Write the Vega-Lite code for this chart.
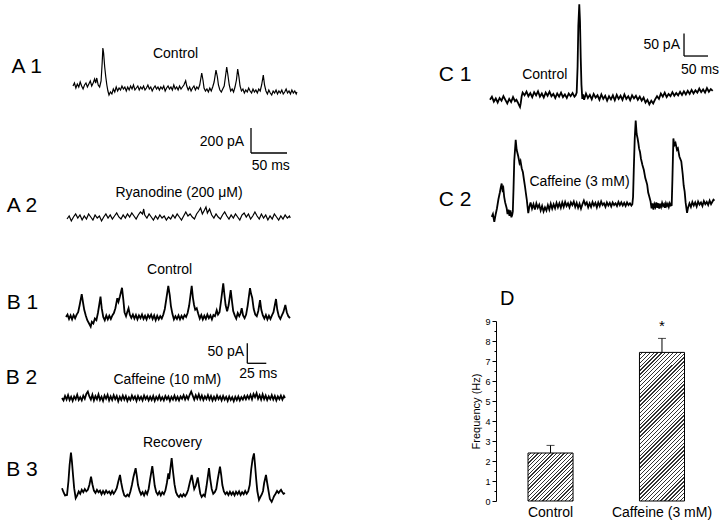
{
"$schema":"https://vega.github.io/schema/vega-lite/v6.json",
"padding":0,
"background":"white",
"config":{"view":{"stroke":null},"font":"Liberation Sans","concat":{"spacing":0},"text":{"font":"Liberation Sans","color":"black"},"axis":{"labelFont":"Liberation Sans","titleFont":"Liberation Sans","domainColor":"black","tickColor":"black","labelColor":"black","titleColor":"black","grid":false,"labelOverlap":false,"labelSeparation":0}},
"datasets":{
"A1":[{"t":0,"v":16},{"t":2,"v":40},{"t":4,"v":0},{"t":6,"v":32},{"t":8,"v":8},{"t":10,"v":48},{"t":12,"v":16},{"t":14,"v":-8},{"t":16,"v":24},{"t":18,"v":40},{"t":20,"v":8},{"t":22,"v":32},{"t":24,"v":56},{"t":26,"v":16},{"t":28,"v":40},{"t":30,"v":72},{"t":31.5,"v":40},{"t":33,"v":80},{"t":35,"v":24},{"t":37,"v":8},{"t":39,"v":56},{"t":40.5,"v":200},{"t":41.5,"v":320},{"t":42.5,"v":280},{"t":44,"v":170},{"t":45.5,"v":90},{"t":47,"v":24},{"t":48.5,"v":-24},{"t":50,"v":-56},{"t":52,"v":-32},{"t":54,"v":-48},{"t":56,"v":-8},{"t":58,"v":-32},{"t":60,"v":8},{"t":62,"v":-24},{"t":64,"v":0},{"t":66,"v":-16},{"t":68,"v":16},{"t":70,"v":-8},{"t":72,"v":8},{"t":74,"v":-24},{"t":76,"v":8},{"t":78,"v":-16},{"t":80,"v":16},{"t":82,"v":-8},{"t":84,"v":24},{"t":86,"v":-16},{"t":88,"v":0},{"t":90,"v":16},{"t":92,"v":-16},{"t":94,"v":8},{"t":96,"v":-8},{"t":98,"v":16},{"t":100,"v":-16},{"t":102,"v":0},{"t":104,"v":24},{"t":106,"v":-8},{"t":108,"v":8},{"t":110,"v":-24},{"t":112,"v":0},{"t":114,"v":16},{"t":116,"v":-8},{"t":118,"v":8},{"t":120,"v":-16},{"t":122,"v":8},{"t":124,"v":-8},{"t":126,"v":16},{"t":128,"v":-24},{"t":130,"v":0},{"t":132,"v":16},{"t":134,"v":-8},{"t":136,"v":8},{"t":138,"v":-16},{"t":140,"v":24},{"t":142,"v":-8},{"t":144,"v":8},{"t":146,"v":-16},{"t":148,"v":16},{"t":150,"v":-8},{"t":152,"v":8},{"t":154,"v":24},{"t":156.5,"v":58},{"t":158,"v":16},{"t":160,"v":-16},{"t":162,"v":8},{"t":164,"v":-24},{"t":166,"v":0},{"t":168,"v":16},{"t":170,"v":-16},{"t":172,"v":8},{"t":174,"v":-8},{"t":176,"v":24},{"t":178.8,"v":120},{"t":180.5,"v":64},{"t":182,"v":0},{"t":184,"v":-24},{"t":186,"v":-8},{"t":188,"v":-32},{"t":190,"v":0},{"t":192,"v":-24},{"t":194,"v":8},{"t":196,"v":48},{"t":198.6,"v":144},{"t":200.5,"v":90},{"t":202,"v":24},{"t":204,"v":-16},{"t":206,"v":-32},{"t":208,"v":-8},{"t":210,"v":16},{"t":211.5,"v":80},{"t":213.5,"v":168},{"t":215,"v":110},{"t":217,"v":24},{"t":219,"v":-24},{"t":221,"v":-8},{"t":223,"v":-32},{"t":225,"v":8},{"t":227,"v":64},{"t":228.75,"v":152},{"t":230.5,"v":88},{"t":232,"v":16},{"t":234,"v":-24},{"t":236,"v":-8},{"t":238,"v":-40},{"t":240,"v":-16},{"t":242,"v":-32},{"t":244,"v":0},{"t":246,"v":-24},{"t":248,"v":-40},{"t":250,"v":-8},{"t":252,"v":-32},{"t":254,"v":-16},{"t":256,"v":-40},{"t":258,"v":-8},{"t":260,"v":-24},{"t":262,"v":24},{"t":264.3,"v":104},{"t":266,"v":24},{"t":268,"v":-24},{"t":270,"v":-48},{"t":272,"v":-16},{"t":274,"v":-40},{"t":276,"v":-56},{"t":278,"v":-24},{"t":280,"v":-40},{"t":282,"v":-16},{"t":284,"v":-48},{"t":286,"v":-24},{"t":288,"v":-40},{"t":290,"v":-16},{"t":292,"v":-48},{"t":294,"v":-32},{"t":296,"v":-8},{"t":298,"v":-40},{"t":300,"v":-24},{"t":302,"v":-48},{"t":304,"v":-16},{"t":306,"v":-40},{"t":308,"v":-24},{"t":310,"v":-48},{"t":311,"v":-32}],
"A2":[{"t":0,"v":-16},{"t":3,"v":8},{"t":6,"v":-32},{"t":9,"v":0},{"t":12,"v":24},{"t":15,"v":-8},{"t":18,"v":16},{"t":21,"v":-24},{"t":24,"v":8},{"t":27,"v":-16},{"t":30,"v":24},{"t":33,"v":0},{"t":36,"v":-24},{"t":39,"v":16},{"t":42,"v":-8},{"t":45,"v":8},{"t":48,"v":-32},{"t":51,"v":0},{"t":54,"v":24},{"t":57,"v":-8},{"t":60,"v":16},{"t":63,"v":-16},{"t":66,"v":8},{"t":69,"v":32},{"t":72,"v":0},{"t":75,"v":-16},{"t":78,"v":16},{"t":81,"v":-8},{"t":84,"v":24},{"t":87,"v":0},{"t":90,"v":32},{"t":93,"v":8},{"t":96,"v":-16},{"t":99,"v":16},{"t":102,"v":40},{"t":105,"v":24},{"t":106.5,"v":64},{"t":108,"v":16},{"t":111,"v":-8},{"t":114,"v":24},{"t":117,"v":0},{"t":120,"v":-24},{"t":123,"v":8},{"t":126,"v":-16},{"t":129,"v":16},{"t":132,"v":-8},{"t":135,"v":8},{"t":138,"v":-24},{"t":141,"v":0},{"t":144,"v":-16},{"t":147,"v":16},{"t":150,"v":-8},{"t":153,"v":24},{"t":156,"v":0},{"t":159,"v":-24},{"t":162,"v":8},{"t":165,"v":40},{"t":168,"v":8},{"t":171,"v":24},{"t":174,"v":0},{"t":177,"v":-16},{"t":180,"v":24},{"t":183,"v":48},{"t":185.5,"v":72},{"t":188,"v":24},{"t":191,"v":56},{"t":193,"v":80},{"t":195,"v":32},{"t":198,"v":64},{"t":201,"v":16},{"t":204,"v":-8},{"t":207,"v":24},{"t":210,"v":0},{"t":213,"v":-16},{"t":216,"v":16},{"t":219,"v":40},{"t":222,"v":8},{"t":225,"v":-16},{"t":228,"v":16},{"t":231,"v":-8},{"t":234,"v":24},{"t":237,"v":0},{"t":240,"v":-24},{"t":243,"v":16},{"t":246,"v":32},{"t":249,"v":0},{"t":252,"v":24},{"t":255,"v":-16},{"t":258,"v":8},{"t":261,"v":40},{"t":264,"v":8},{"t":267,"v":-16},{"t":270,"v":24},{"t":273,"v":-8},{"t":276,"v":16},{"t":279,"v":-24},{"t":282,"v":8},{"t":285,"v":-16},{"t":288,"v":24},{"t":291,"v":0},{"t":294,"v":-24},{"t":297,"v":8},{"t":300,"v":-16},{"t":303,"v":16},{"t":306,"v":-8},{"t":309,"v":8},{"t":310,"v":-8}],
"B1":[{"t":0,"v":0},{"t":2,"v":6},{"t":4,"v":-5},{"t":6,"v":4},{"t":8,"v":-6},{"t":10,"v":5},{"t":12,"v":-3},{"t":14,"v":6},{"t":16,"v":12},{"t":18,"v":30},{"t":20.7,"v":57},{"t":22.5,"v":35},{"t":24,"v":18},{"t":26,"v":4},{"t":28,"v":-8},{"t":30,"v":-15},{"t":32.5,"v":-24},{"t":34,"v":-12},{"t":36,"v":-16},{"t":38,"v":-4},{"t":40,"v":-8},{"t":42,"v":10},{"t":43.7,"v":30},{"t":45.4,"v":51},{"t":47,"v":22},{"t":49,"v":0},{"t":51,"v":-8},{"t":53,"v":4},{"t":55,"v":-6},{"t":57,"v":3},{"t":59,"v":-5},{"t":61,"v":4},{"t":63,"v":10},{"t":65,"v":22},{"t":67.5,"v":47},{"t":69,"v":38},{"t":71,"v":52},{"t":73.7,"v":73},{"t":75.5,"v":42},{"t":77,"v":12},{"t":79,"v":2},{"t":80.5,"v":12},{"t":82.3,"v":22},{"t":84,"v":6},{"t":86,"v":-2},{"t":88,"v":6},{"t":90,"v":-4},{"t":92,"v":5},{"t":94,"v":-6},{"t":96,"v":4},{"t":98,"v":-3},{"t":100,"v":6},{"t":102,"v":-5},{"t":104,"v":3},{"t":106,"v":-6},{"t":108,"v":5},{"t":110,"v":-2},{"t":112,"v":6},{"t":114,"v":-5},{"t":116,"v":4},{"t":118,"v":-8},{"t":120,"v":3},{"t":122,"v":-6},{"t":124,"v":2},{"t":126,"v":-4},{"t":128,"v":6},{"t":130,"v":20},{"t":132,"v":45},{"t":134.6,"v":78},{"t":136.5,"v":55},{"t":138,"v":28},{"t":140,"v":8},{"t":142,"v":-6},{"t":144,"v":2},{"t":146,"v":-5},{"t":148,"v":4},{"t":150,"v":-6},{"t":152,"v":3},{"t":154,"v":-4},{"t":156,"v":5},{"t":158,"v":0},{"t":160,"v":10},{"t":162,"v":28},{"t":163.5,"v":50},{"t":165.4,"v":78},{"t":167,"v":48},{"t":168.5,"v":30},{"t":170,"v":18},{"t":172,"v":22},{"t":174,"v":8},{"t":176,"v":-4},{"t":178,"v":5},{"t":180,"v":-6},{"t":182,"v":3},{"t":184,"v":-5},{"t":186,"v":6},{"t":188,"v":-3},{"t":190,"v":4},{"t":192,"v":-6},{"t":194,"v":5},{"t":196,"v":2},{"t":198.3,"v":17},{"t":200,"v":6},{"t":202,"v":12},{"t":204,"v":40},{"t":206.9,"v":84},{"t":208.5,"v":55},{"t":210,"v":30},{"t":212,"v":14},{"t":214,"v":30},{"t":216.7,"v":67},{"t":218.5,"v":38},{"t":220,"v":15},{"t":222,"v":4},{"t":224,"v":-4},{"t":226,"v":10},{"t":228,"v":2},{"t":229.5,"v":8},{"t":231.2,"v":22},{"t":233,"v":4},{"t":235,"v":-3},{"t":237,"v":6},{"t":239,"v":28},{"t":242.1,"v":72},{"t":243.5,"v":58},{"t":245,"v":48},{"t":247,"v":20},{"t":249,"v":6},{"t":251,"v":2},{"t":253,"v":15},{"t":255.3,"v":42},{"t":257,"v":18},{"t":259,"v":4},{"t":261,"v":-4},{"t":263,"v":5},{"t":265,"v":-6},{"t":267,"v":3},{"t":269,"v":-5},{"t":271,"v":4},{"t":273,"v":12},{"t":276.3,"v":45},{"t":278,"v":18},{"t":280,"v":2},{"t":282,"v":-5},{"t":284,"v":4},{"t":286,"v":12},{"t":288.6,"v":30},{"t":290.5,"v":12},{"t":292.5,"v":2},{"t":294.7,"v":-3}],
"B2":[{"t":0,"v":0},{"t":2,"v":-6},{"t":4,"v":5},{"t":6,"v":-4},{"t":8,"v":7},{"t":10,"v":-5},{"t":12,"v":3},{"t":14,"v":-7},{"t":16,"v":4},{"t":18,"v":-3},{"t":20,"v":8},{"t":22,"v":-5},{"t":24,"v":2},{"t":26,"v":-6},{"t":28,"v":6},{"t":30,"v":-2},{"t":32,"v":10},{"t":34,"v":16},{"t":36,"v":4},{"t":38,"v":-4},{"t":40,"v":8},{"t":42,"v":-6},{"t":44,"v":5},{"t":46,"v":-3},{"t":48,"v":9},{"t":50,"v":-5},{"t":52,"v":3},{"t":54,"v":-7},{"t":56,"v":6},{"t":58,"v":-2},{"t":60,"v":8},{"t":62,"v":-6},{"t":64,"v":4},{"t":66,"v":-5},{"t":68,"v":7},{"t":70,"v":-3},{"t":72,"v":5},{"t":74,"v":-8},{"t":76,"v":3},{"t":78,"v":-5},{"t":80,"v":6},{"t":82,"v":-4},{"t":84,"v":5},{"t":86,"v":-7},{"t":88,"v":2},{"t":90,"v":-5},{"t":92,"v":6},{"t":94,"v":-3},{"t":96,"v":4},{"t":98,"v":-7},{"t":100,"v":5},{"t":102,"v":-4},{"t":104,"v":3},{"t":106,"v":-6},{"t":108,"v":6},{"t":110,"v":-3},{"t":112,"v":4},{"t":114,"v":-6},{"t":116,"v":3},{"t":118,"v":-5},{"t":120,"v":5},{"t":122,"v":-7},{"t":124,"v":3},{"t":126,"v":-4},{"t":128,"v":6},{"t":130,"v":-5},{"t":132,"v":2},{"t":134,"v":-6},{"t":136,"v":5},{"t":138,"v":-3},{"t":140,"v":4},{"t":142,"v":-7},{"t":144,"v":3},{"t":146,"v":-4},{"t":148,"v":6},{"t":150,"v":-5},{"t":152,"v":3},{"t":154,"v":-6},{"t":156,"v":4},{"t":158,"v":-2},{"t":160,"v":7},{"t":162,"v":-4},{"t":164,"v":5},{"t":166,"v":-3},{"t":168,"v":8},{"t":170,"v":16},{"t":172,"v":6},{"t":174,"v":-4},{"t":176,"v":7},{"t":178,"v":-2},{"t":180,"v":9},{"t":182,"v":-3},{"t":184,"v":6},{"t":186,"v":-5},{"t":188,"v":4},{"t":190,"v":-3},{"t":192,"v":7},{"t":194,"v":-4},{"t":196,"v":5},{"t":198,"v":-6},{"t":200,"v":3},{"t":202,"v":-5},{"t":204,"v":6},{"t":206,"v":-3},{"t":208,"v":4},{"t":210,"v":-6},{"t":212,"v":5},{"t":214,"v":-4},{"t":216,"v":3},{"t":218,"v":-7},{"t":220,"v":4},{"t":222,"v":-5},{"t":224,"v":2},{"t":226,"v":-8},{"t":228,"v":3},{"t":230,"v":-5},{"t":232,"v":4},{"t":234,"v":-6},{"t":236,"v":2},{"t":238,"v":-4},{"t":240,"v":5},{"t":242,"v":-3},{"t":244,"v":6},{"t":246,"v":-2},{"t":248,"v":8},{"t":250,"v":-3},{"t":252,"v":10},{"t":254,"v":2},{"t":256,"v":12},{"t":258,"v":-2},{"t":260,"v":7},{"t":262,"v":-4},{"t":264,"v":9},{"t":266,"v":-3},{"t":268,"v":6},{"t":270,"v":-5},{"t":272,"v":4},{"t":274,"v":-3},{"t":276,"v":7},{"t":278,"v":-4},{"t":280,"v":5},{"t":282,"v":-6},{"t":284,"v":4},{"t":286,"v":-3},{"t":288,"v":6},{"t":290,"v":-4},{"t":292,"v":5},{"t":293.4,"v":0}],
"B3":[{"t":0,"v":12},{"t":2,"v":2},{"t":4,"v":-6},{"t":6.6,"v":-5},{"t":8.5,"v":30},{"t":10,"v":70},{"t":11.8,"v":101},{"t":13,"v":80},{"t":14.5,"v":45},{"t":16,"v":12},{"t":18,"v":-13},{"t":20,"v":-6},{"t":22,"v":4},{"t":24,"v":-2},{"t":26,"v":8},{"t":28,"v":2},{"t":30,"v":10},{"t":32,"v":4},{"t":34,"v":8},{"t":36,"v":20},{"t":38.2,"v":41},{"t":40,"v":22},{"t":42,"v":6},{"t":44,"v":0},{"t":46,"v":8},{"t":48,"v":2},{"t":50,"v":6},{"t":52,"v":-3},{"t":54,"v":5},{"t":56,"v":-2},{"t":58,"v":6},{"t":60,"v":0},{"t":62,"v":4},{"t":64,"v":-3},{"t":66,"v":5},{"t":68,"v":-2},{"t":70,"v":4},{"t":72,"v":12},{"t":74,"v":28},{"t":76.3,"v":45},{"t":78,"v":25},{"t":80,"v":6},{"t":82,"v":-6},{"t":84,"v":-9},{"t":86,"v":-4},{"t":88,"v":-8},{"t":90,"v":4},{"t":92,"v":20},{"t":94,"v":40},{"t":96.9,"v":62},{"t":98.5,"v":42},{"t":100,"v":20},{"t":102,"v":6},{"t":104,"v":-4},{"t":106,"v":2},{"t":108,"v":-6},{"t":110,"v":4},{"t":112,"v":-3},{"t":114,"v":10},{"t":116,"v":35},{"t":118.8,"v":67},{"t":120.5,"v":42},{"t":122,"v":18},{"t":124,"v":2},{"t":126,"v":-4},{"t":128,"v":3},{"t":130,"v":-6},{"t":132,"v":2},{"t":134,"v":-3},{"t":136,"v":6},{"t":138,"v":25},{"t":139.9,"v":49},{"t":141,"v":35},{"t":142.5,"v":60},{"t":144.3,"v":87},{"t":146,"v":55},{"t":148,"v":22},{"t":150,"v":2},{"t":152,"v":-6},{"t":154,"v":-10},{"t":156,"v":-4},{"t":158,"v":-9},{"t":160,"v":-3},{"t":162,"v":-8},{"t":164,"v":-2},{"t":166,"v":8},{"t":168,"v":25},{"t":170.7,"v":45},{"t":172.5,"v":25},{"t":174,"v":10},{"t":176,"v":18},{"t":178.6,"v":39},{"t":180.5,"v":15},{"t":182,"v":-2},{"t":183.8,"v":-10},{"t":186,"v":-4},{"t":188,"v":-8},{"t":190,"v":15},{"t":193.4,"v":62},{"t":195,"v":35},{"t":197,"v":10},{"t":199,"v":-2},{"t":201,"v":2},{"t":203,"v":10},{"t":205,"v":35},{"t":207.9,"v":66},{"t":209.5,"v":45},{"t":211,"v":20},{"t":213,"v":4},{"t":215,"v":-3},{"t":217,"v":2},{"t":219,"v":-5},{"t":221,"v":3},{"t":223,"v":-4},{"t":225,"v":2},{"t":227,"v":-6},{"t":229,"v":3},{"t":231,"v":-3},{"t":233,"v":4},{"t":235,"v":-5},{"t":237,"v":2},{"t":239,"v":-3},{"t":241,"v":5},{"t":243,"v":-2},{"t":245,"v":4},{"t":247,"v":20},{"t":249,"v":60},{"t":250.8,"v":85},{"t":252.6,"v":99},{"t":254,"v":70},{"t":255.5,"v":35},{"t":257,"v":5},{"t":259.2,"v":-17},{"t":261,"v":-10},{"t":263,"v":-3},{"t":264.5,"v":5},{"t":266,"v":25},{"t":268.4,"v":45},{"t":270,"v":25},{"t":272,"v":2},{"t":273.5,"v":-15},{"t":275.9,"v":-22},{"t":277.5,"v":-15},{"t":279,"v":-8},{"t":281,"v":-2},{"t":283,"v":5},{"t":285,"v":0},{"t":286.5,"v":4},{"t":288.2,"v":8},{"t":290,"v":2},{"t":291.5,"v":-2},{"t":293.4,"v":0}],
"C1":[{"t":0,"v":-4},{"t":4,"v":3},{"t":8,"v":-8},{"t":12,"v":-1},{"t":16,"v":-10},{"t":20,"v":0},{"t":24,"v":-6},{"t":28,"v":4},{"t":32,"v":-4},{"t":36,"v":-12},{"t":40,"v":-2},{"t":44,"v":-9},{"t":48,"v":2},{"t":52,"v":-7},{"t":55,"v":-4},{"t":58,"v":-10},{"t":60.5,"v":-16},{"t":62.5,"v":-20},{"t":64,"v":-12},{"t":66,"v":4},{"t":68,"v":12},{"t":72,"v":6},{"t":76,"v":14},{"t":80,"v":4},{"t":84,"v":11},{"t":88,"v":2},{"t":92,"v":13},{"t":96,"v":6},{"t":100,"v":15},{"t":104,"v":3},{"t":108,"v":10},{"t":112,"v":1},{"t":116,"v":12},{"t":120,"v":5},{"t":124,"v":14},{"t":128,"v":4},{"t":132,"v":9},{"t":136,"v":0},{"t":140,"v":10},{"t":144,"v":3},{"t":148,"v":12},{"t":152,"v":2},{"t":156,"v":8},{"t":160,"v":0},{"t":164,"v":10},{"t":168,"v":4},{"t":172,"v":11},{"t":176,"v":3},{"t":178.5,"v":6},{"t":180.6,"v":12},{"t":182.5,"v":70},{"t":184,"v":160},{"t":186,"v":208},{"t":187.5,"v":170},{"t":189,"v":90},{"t":190.5,"v":30},{"t":192.3,"v":-2},{"t":194,"v":8},{"t":196,"v":-4},{"t":200,"v":10},{"t":204,"v":0},{"t":208,"v":7},{"t":212,"v":-3},{"t":216,"v":9},{"t":220,"v":1},{"t":224,"v":6},{"t":228,"v":-4},{"t":232,"v":8},{"t":236,"v":-2},{"t":240,"v":5},{"t":244,"v":-6},{"t":248,"v":4},{"t":252,"v":-3},{"t":256,"v":6},{"t":260,"v":-5},{"t":264,"v":7},{"t":268,"v":-2},{"t":272,"v":5},{"t":276,"v":-4},{"t":280,"v":8},{"t":284,"v":-2},{"t":288,"v":4},{"t":292,"v":-5},{"t":296,"v":6},{"t":300,"v":-1},{"t":304,"v":5},{"t":308,"v":-4},{"t":312,"v":3},{"t":316,"v":-6},{"t":320,"v":1},{"t":324,"v":-10},{"t":328,"v":-4},{"t":332,"v":-14},{"t":336,"v":-6},{"t":340,"v":-12},{"t":344,"v":-3},{"t":348,"v":4},{"t":352,"v":-2},{"t":356,"v":10},{"t":360,"v":3},{"t":364,"v":12},{"t":368,"v":2},{"t":372,"v":9},{"t":376,"v":4},{"t":380,"v":13},{"t":384,"v":5},{"t":388,"v":11},{"t":392,"v":6},{"t":396,"v":14},{"t":400,"v":7},{"t":404,"v":15},{"t":408,"v":8},{"t":412,"v":16},{"t":416,"v":9},{"t":420,"v":18},{"t":424,"v":10},{"t":428,"v":17},{"t":432,"v":12},{"t":436,"v":21},{"t":440,"v":13},{"t":444,"v":19},{"t":448,"v":12},{"t":452,"v":22},{"t":456,"v":14},{"t":460,"v":20},{"t":464,"v":16}],
"C2":[{"t":0,"v":-24},{"t":2.5,"v":-18},{"t":5.4,"v":-35},{"t":8,"v":-20},{"t":11,"v":-5},{"t":14,"v":15},{"t":17,"v":30},{"t":19,"v":42},{"t":20.8,"v":50},{"t":22.5,"v":36},{"t":24.2,"v":40},{"t":26,"v":20},{"t":28,"v":8},{"t":31.2,"v":-5},{"t":33,"v":-18},{"t":35,"v":-8},{"t":37,"v":-22},{"t":39,"v":-10},{"t":41,"v":-25},{"t":42.7,"v":-20},{"t":44,"v":-12},{"t":45.5,"v":40},{"t":47,"v":100},{"t":50,"v":147},{"t":52,"v":125},{"t":55.4,"v":110},{"t":58,"v":95},{"t":60,"v":100},{"t":62.5,"v":84},{"t":65,"v":75},{"t":67,"v":60},{"t":69.4,"v":43},{"t":71,"v":30},{"t":73,"v":15},{"t":75,"v":-5},{"t":76.2,"v":-16},{"t":78,"v":-4},{"t":81,"v":8},{"t":84,"v":-6},{"t":87,"v":4},{"t":90,"v":-8},{"t":93,"v":6},{"t":96,"v":-4},{"t":99,"v":3},{"t":102,"v":-10},{"t":105,"v":0},{"t":108,"v":-12},{"t":111,"v":-3},{"t":114,"v":-10},{"t":117,"v":2},{"t":120,"v":-8},{"t":123,"v":5},{"t":126,"v":-6},{"t":129,"v":4},{"t":132,"v":-5},{"t":135,"v":7},{"t":138,"v":-3},{"t":141,"v":6},{"t":144,"v":-4},{"t":147,"v":8},{"t":150,"v":-2},{"t":153,"v":9},{"t":156,"v":0},{"t":159,"v":6},{"t":162,"v":-3},{"t":165,"v":8},{"t":168,"v":2},{"t":171,"v":10},{"t":174,"v":-2},{"t":177,"v":7},{"t":180,"v":-4},{"t":183,"v":5},{"t":186,"v":-6},{"t":189,"v":4},{"t":192,"v":12},{"t":195,"v":3},{"t":198,"v":8},{"t":201,"v":-3},{"t":204,"v":6},{"t":207,"v":-2},{"t":210,"v":9},{"t":213,"v":1},{"t":216,"v":7},{"t":219,"v":-3},{"t":222,"v":8},{"t":225,"v":0},{"t":228,"v":10},{"t":231,"v":2},{"t":234,"v":6},{"t":237,"v":-2},{"t":240,"v":8},{"t":243,"v":1},{"t":246,"v":7},{"t":249,"v":-1},{"t":252,"v":8},{"t":255,"v":2},{"t":258,"v":6},{"t":261,"v":0},{"t":264,"v":9},{"t":267,"v":2},{"t":270,"v":8},{"t":273,"v":1},{"t":276,"v":7},{"t":279,"v":0},{"t":282,"v":8},{"t":285,"v":2},{"t":288,"v":6},{"t":291,"v":1},{"t":293,"v":4},{"t":294.5,"v":20},{"t":296,"v":80},{"t":298,"v":150},{"t":300,"v":190},{"t":302,"v":160},{"t":304,"v":150},{"t":305.5,"v":140},{"t":307,"v":128},{"t":309,"v":120},{"t":311,"v":105},{"t":314,"v":91},{"t":317,"v":80},{"t":320,"v":62},{"t":322,"v":55},{"t":324,"v":47},{"t":326,"v":30},{"t":328,"v":22},{"t":331,"v":10},{"t":333,"v":-5},{"t":335,"v":6},{"t":337,"v":-8},{"t":339,"v":4},{"t":341,"v":-2},{"t":343,"v":8},{"t":345,"v":-4},{"t":347,"v":6},{"t":349,"v":-6},{"t":351,"v":5},{"t":353,"v":-2},{"t":355,"v":7},{"t":357,"v":0},{"t":359,"v":4},{"t":361,"v":-4},{"t":363,"v":6},{"t":365,"v":0},{"t":367,"v":5},{"t":369,"v":-2},{"t":371,"v":6},{"t":373,"v":1},{"t":375,"v":2},{"t":376.5,"v":60},{"t":378.5,"v":150},{"t":380.5,"v":135},{"t":383,"v":140},{"t":386,"v":125},{"t":388,"v":128},{"t":391,"v":110},{"t":395,"v":99},{"t":398,"v":70},{"t":400,"v":45},{"t":402,"v":32},{"t":404,"v":8},{"t":405.6,"v":-5},{"t":407,"v":-15},{"t":409,"v":-4},{"t":412,"v":6},{"t":415,"v":-2},{"t":418,"v":9},{"t":421,"v":1},{"t":424,"v":8},{"t":427,"v":-1},{"t":430,"v":10},{"t":433,"v":3},{"t":436,"v":8},{"t":439,"v":0},{"t":442,"v":11},{"t":445,"v":4},{"t":448,"v":9},{"t":451,"v":2},{"t":454,"v":12},{"t":457,"v":4},{"t":460,"v":10},{"t":462,"v":14},{"t":464.2,"v":12}]
},
"hconcat":[
{"vconcat":[
 {"width":300,"height":115,
  "encoding":{"x":{"field":"t","type":"quantitative","scale":{"domain":[-101.39,315.28],"nice":false,"zero":false},"axis":null},"y":{"field":"v","type":"quantitative","scale":{"domain":[-216,704],"nice":false,"zero":false},"axis":null}},
  "layer":[
   {"data":{"name":"A1"},"mark":{"type":"line","color":"black","strokeWidth":1.2},"encoding":{}},
   {"data":{"values":[{"t":-64.3,"v":168,"s":"A 1"}]},"mark":{"type":"text","fontSize":21,"baseline":"middle"},"encoding":{"text":{"field":"s"}}},
   {"data":{"values":[{"t":142.4,"v":272,"s":"Control"}]},"mark":{"type":"text","fontSize":14,"baseline":"middle"},"encoding":{"text":{"field":"s"}}}
  ]},
 {"width":300,"height":125,
  "encoding":{"x":{"field":"t","type":"quantitative","scale":{"domain":[-93.06,323.61],"nice":false,"zero":false},"axis":null},"y":{"field":"v","type":"quantitative","scale":{"domain":[-184,816],"nice":false,"zero":false},"axis":null}},
  "layer":[
   {"data":{"name":"A2"},"mark":{"type":"line","color":"black","strokeWidth":1.2},"encoding":{}},
   {"data":{"values":[{"t":255.56,"t2":255.56,"v":512,"v2":712},{"t":255.56,"t2":305.56,"v":512,"v2":512}]},"mark":{"type":"rule","color":"black","strokeWidth":1.3},"encoding":{"x2":{"field":"t2"},"y2":{"field":"v2"}}},
   {"data":{"values":[{"t":-62.5,"v":90,"s":"A 2"}]},"mark":{"type":"text","fontSize":21,"baseline":"middle"},"encoding":{"text":{"field":"s"}}},
   {"data":{"values":[{"t":155.6,"v":194,"s":"Ryanodine (200 μM)"},{"t":215.3,"v":600,"s":"200 pA"},{"t":283,"v":408,"s":"50 ms"}]},"mark":{"type":"text","fontSize":14,"baseline":"middle"},"encoding":{"text":{"field":"s"}}}
  ]},
 {"width":300,"height":95,
  "encoding":{"x":{"field":"t","type":"quantitative","scale":{"domain":[-86.84,307.89],"nice":false,"zero":false},"axis":null},"y":{"field":"v","type":"quantitative","scale":{"domain":[-45,192.5],"nice":false,"zero":false},"axis":null}},
  "layer":[
   {"data":{"name":"B1"},"mark":{"type":"line","color":"black","strokeWidth":1.8},"encoding":{}},
   {"data":{"values":[{"t":-57.2,"v":35,"s":"B 1"}]},"mark":{"type":"text","fontSize":21,"baseline":"middle"},"encoding":{"text":{"field":"s"}}},
   {"data":{"values":[{"t":136.4,"v":117.5,"s":"Control"}]},"mark":{"type":"text","fontSize":14,"baseline":"middle"},"encoding":{"text":{"field":"s"}}}
  ]},
 {"width":300,"height":90,
  "encoding":{"x":{"field":"t","type":"quantitative","scale":{"domain":[-81.58,313.16],"nice":false,"zero":false},"axis":null},"y":{"field":"v","type":"quantitative","scale":{"domain":[-67.5,157.5],"nice":false,"zero":false},"axis":null}},
  "layer":[
   {"data":{"name":"B2"},"mark":{"type":"line","color":"black","strokeWidth":1.8},"encoding":{}},
   {"data":{"values":[{"t":243.8,"t2":243.8,"v":86.75,"v2":136.75},{"t":243.8,"t2":268.8,"v":86.75,"v2":86.75}]},"mark":{"type":"rule","color":"black","strokeWidth":1.3},"encoding":{"x2":{"field":"t2"},"y2":{"field":"v2"}}},
   {"data":{"values":[{"t":-53.3,"v":50,"s":"B 2"}]},"mark":{"type":"text","fontSize":21,"baseline":"middle"},"encoding":{"text":{"field":"s"}}},
   {"data":{"values":[{"t":138.6,"v":45,"s":"Caffeine (10 mM)"},{"t":215.5,"v":115.75,"s":"50 pA"},{"t":258.3,"v":59.25,"s":"25 ms"}]},"mark":{"type":"text","fontSize":14,"baseline":"middle"},"encoding":{"text":{"field":"s"}}}
  ]},
 {"width":300,"height":99,
  "encoding":{"x":{"field":"t","type":"quantitative","scale":{"domain":[-81.58,313.16],"nice":false,"zero":false},"axis":null},"y":{"field":"v","type":"quantitative","scale":{"domain":[-77.5,170],"nice":false,"zero":false},"axis":null}},
  "layer":[
   {"data":{"name":"B3"},"mark":{"type":"line","color":"black","strokeWidth":1.8},"encoding":{}},
   {"data":{"values":[{"t":-52.6,"v":57.5,"s":"B 3"}]},"mark":{"type":"text","fontSize":21,"baseline":"middle"},"encoding":{"text":{"field":"s"}}},
   {"data":{"values":[{"t":145.4,"v":124.25,"s":"Recovery"}]},"mark":{"type":"text","fontSize":14,"baseline":"middle"},"encoding":{"text":{"field":"s"}}}
  ]}
 ],"spacing":0,"bounds":"flush"},
{"vconcat":[
 {"width":420,"height":130,
  "encoding":{"x":{"field":"t","type":"quantitative","scale":{"domain":[-395.83,479.17],"nice":false,"zero":false},"axis":null},"y":{"field":"v","type":"quantitative","scale":{"domain":[-71.11,217.78],"nice":false,"zero":false},"axis":null}},
  "layer":[
   {"data":{"name":"C1"},"mark":{"type":"line","color":"black","strokeWidth":1.8},"encoding":{}},
   {"data":{"values":[{"t":404.2,"t2":404.2,"v":93.3,"v2":143.3},{"t":404.2,"t2":454.2,"v":93.3,"v2":93.3}]},"mark":{"type":"rule","color":"black","strokeWidth":1.3},"encoding":{"x2":{"field":"t2"},"y2":{"field":"v2"}}},
   {"data":{"values":[{"t":-72.9,"v":51.1,"s":"C 1"}]},"mark":{"type":"text","fontSize":21,"baseline":"middle"},"encoding":{"text":{"field":"s"}}},
   {"data":{"values":[{"t":114,"v":51.1,"s":"Control"},{"t":357.7,"v":117.8,"s":"50 pA"},{"t":437.5,"v":62.2,"s":"50 ms"}]},"mark":{"type":"text","fontSize":14,"baseline":"middle"},"encoding":{"text":{"field":"s"}}}
  ]},
 {"width":420,"height":191,
  "encoding":{"x":{"field":"t","type":"quantitative","scale":{"domain":[-399.38,475.63],"nice":false,"zero":false},"axis":null},"y":{"field":"v","type":"quantitative","scale":{"domain":[-255.56,168.89],"nice":false,"zero":false},"axis":null}},
  "layer":[
   {"data":{"name":"C2"},"mark":{"type":"line","color":"black","strokeWidth":1.8},"encoding":{}},
   {"data":{"values":[{"t":-76.5,"v":13.3,"s":"C 2"}]},"mark":{"type":"text","fontSize":21,"baseline":"middle"},"encoding":{"text":{"field":"s"}}},
   {"data":{"values":[{"t":182.9,"v":54,"s":"Caffeine (3 mM)"}]},"mark":{"type":"text","fontSize":14,"baseline":"middle"},"encoding":{"text":{"field":"s"}}}
  ]},
 {"width":420,"height":180,
  "title":{"text":"D","anchor":"start","dx":200,"fontSize":20,"fontWeight":"normal","font":"Liberation Sans","offset":8,"color":"black"},
  "data":{"values":[{"g":"Control","m":2.4,"hi":2.78,"sig":""},{"g":"Caffeine (3 mM)","m":7.43,"hi":8.13,"sig":"*"}]},
  "encoding":{"x":{"field":"g","type":"nominal","sort":null,"scale":{"domain":["Control","Caffeine (3 mM)"],"range":[228,384.5],"paddingInner":0.596,"paddingOuter":0},"axis":{"title":null,"domain":false,"ticks":false,"labelAngle":0,"labelFontSize":14,"labelPadding":4}}},
  "layer":[
   {"transform":[{"filter":"datum.g === 'Control'"}],
    "mark":{"type":"bar","stroke":"black","strokeWidth":1,"fill":{"gradient":"linear","x1":0,"y1":0,"x2":0.9667,"y2":1.0312,"stops":[
{"offset":0,"color":"#fff"},{"offset":0.026,"color":"#fff"},{"offset":0.026,"color":"#333"},{"offset":0.04,"color":"#333"},
{"offset":0.04,"color":"#fff"},{"offset":0.066,"color":"#fff"},{"offset":0.066,"color":"#333"},{"offset":0.08,"color":"#333"},
{"offset":0.08,"color":"#fff"},{"offset":0.106,"color":"#fff"},{"offset":0.106,"color":"#333"},{"offset":0.12,"color":"#333"},
{"offset":0.12,"color":"#fff"},{"offset":0.146,"color":"#fff"},{"offset":0.146,"color":"#333"},{"offset":0.16,"color":"#333"},
{"offset":0.16,"color":"#fff"},{"offset":0.186,"color":"#fff"},{"offset":0.186,"color":"#333"},{"offset":0.2,"color":"#333"},
{"offset":0.2,"color":"#fff"},{"offset":0.226,"color":"#fff"},{"offset":0.226,"color":"#333"},{"offset":0.24,"color":"#333"},
{"offset":0.24,"color":"#fff"},{"offset":0.266,"color":"#fff"},{"offset":0.266,"color":"#333"},{"offset":0.28,"color":"#333"},
{"offset":0.28,"color":"#fff"},{"offset":0.306,"color":"#fff"},{"offset":0.306,"color":"#333"},{"offset":0.32,"color":"#333"},
{"offset":0.32,"color":"#fff"},{"offset":0.346,"color":"#fff"},{"offset":0.346,"color":"#333"},{"offset":0.36,"color":"#333"},
{"offset":0.36,"color":"#fff"},{"offset":0.386,"color":"#fff"},{"offset":0.386,"color":"#333"},{"offset":0.4,"color":"#333"},
{"offset":0.4,"color":"#fff"},{"offset":0.426,"color":"#fff"},{"offset":0.426,"color":"#333"},{"offset":0.44,"color":"#333"},
{"offset":0.44,"color":"#fff"},{"offset":0.466,"color":"#fff"},{"offset":0.466,"color":"#333"},{"offset":0.48,"color":"#333"},
{"offset":0.48,"color":"#fff"},{"offset":0.506,"color":"#fff"},{"offset":0.506,"color":"#333"},{"offset":0.52,"color":"#333"},
{"offset":0.52,"color":"#fff"},{"offset":0.546,"color":"#fff"},{"offset":0.546,"color":"#333"},{"offset":0.56,"color":"#333"},
{"offset":0.56,"color":"#fff"},{"offset":0.586,"color":"#fff"},{"offset":0.586,"color":"#333"},{"offset":0.6,"color":"#333"},
{"offset":0.6,"color":"#fff"},{"offset":0.626,"color":"#fff"},{"offset":0.626,"color":"#333"},{"offset":0.64,"color":"#333"},
{"offset":0.64,"color":"#fff"},{"offset":0.666,"color":"#fff"},{"offset":0.666,"color":"#333"},{"offset":0.68,"color":"#333"},
{"offset":0.68,"color":"#fff"},{"offset":0.706,"color":"#fff"},{"offset":0.706,"color":"#333"},{"offset":0.72,"color":"#333"},
{"offset":0.72,"color":"#fff"},{"offset":0.746,"color":"#fff"},{"offset":0.746,"color":"#333"},{"offset":0.76,"color":"#333"},
{"offset":0.76,"color":"#fff"},{"offset":0.786,"color":"#fff"},{"offset":0.786,"color":"#333"},{"offset":0.8,"color":"#333"},
{"offset":0.8,"color":"#fff"},{"offset":0.826,"color":"#fff"},{"offset":0.826,"color":"#333"},{"offset":0.84,"color":"#333"},
{"offset":0.84,"color":"#fff"},{"offset":0.866,"color":"#fff"},{"offset":0.866,"color":"#333"},{"offset":0.88,"color":"#333"},
{"offset":0.88,"color":"#fff"},{"offset":0.906,"color":"#fff"},{"offset":0.906,"color":"#333"},{"offset":0.92,"color":"#333"},
{"offset":0.92,"color":"#fff"},{"offset":0.946,"color":"#fff"},{"offset":0.946,"color":"#333"},{"offset":0.96,"color":"#333"},
{"offset":0.96,"color":"#fff"},{"offset":0.986,"color":"#fff"},{"offset":0.986,"color":"#333"},{"offset":1,"color":"#333"}]}},
    "encoding":{"y":{"field":"m","type":"quantitative","title":"Frequency (Hz)","scale":{"domain":[0,9],"nice":false,"zero":true},
      "axis":{"values":[0,0.5,1,1.5,2,2.5,3,3.5,4,4.5,5,5.5,6,6.5,7,7.5,8,8.5,9],"tickCount":20,"format":".1f","labelExpr":"datum.value % 1 === 0 ? format(datum.value, 'd') : ''","labelOverlap":false,"labelSeparation":0,"tickSize":{"condition":{"test":"datum.value % 1 === 0","value":4},"value":2},"labelFontSize":9,"labelPadding":2,"titleFontSize":11,"titleFontWeight":"normal","titlePadding":3,"offset":-196,"domainWidth":1,"tickWidth":1}}}},
   {"transform":[{"filter":"datum.g !== 'Control'"}],
    "mark":{"type":"bar","stroke":"black","strokeWidth":1,"fill":{"gradient":"linear","x1":0,"y1":0,"x2":0.3614,"y2":1.1934,"stops":[
{"offset":0,"color":"#fff"},{"offset":0.013,"color":"#fff"},{"offset":0.013,"color":"#333"},{"offset":0.02,"color":"#333"},
{"offset":0.02,"color":"#fff"},{"offset":0.033,"color":"#fff"},{"offset":0.033,"color":"#333"},{"offset":0.04,"color":"#333"},
{"offset":0.04,"color":"#fff"},{"offset":0.053,"color":"#fff"},{"offset":0.053,"color":"#333"},{"offset":0.06,"color":"#333"},
{"offset":0.06,"color":"#fff"},{"offset":0.073,"color":"#fff"},{"offset":0.073,"color":"#333"},{"offset":0.08,"color":"#333"},
{"offset":0.08,"color":"#fff"},{"offset":0.093,"color":"#fff"},{"offset":0.093,"color":"#333"},{"offset":0.1,"color":"#333"},
{"offset":0.1,"color":"#fff"},{"offset":0.113,"color":"#fff"},{"offset":0.113,"color":"#333"},{"offset":0.12,"color":"#333"},
{"offset":0.12,"color":"#fff"},{"offset":0.133,"color":"#fff"},{"offset":0.133,"color":"#333"},{"offset":0.14,"color":"#333"},
{"offset":0.14,"color":"#fff"},{"offset":0.153,"color":"#fff"},{"offset":0.153,"color":"#333"},{"offset":0.16,"color":"#333"},
{"offset":0.16,"color":"#fff"},{"offset":0.173,"color":"#fff"},{"offset":0.173,"color":"#333"},{"offset":0.18,"color":"#333"},
{"offset":0.18,"color":"#fff"},{"offset":0.193,"color":"#fff"},{"offset":0.193,"color":"#333"},{"offset":0.2,"color":"#333"},
{"offset":0.2,"color":"#fff"},{"offset":0.213,"color":"#fff"},{"offset":0.213,"color":"#333"},{"offset":0.22,"color":"#333"},
{"offset":0.22,"color":"#fff"},{"offset":0.233,"color":"#fff"},{"offset":0.233,"color":"#333"},{"offset":0.24,"color":"#333"},
{"offset":0.24,"color":"#fff"},{"offset":0.253,"color":"#fff"},{"offset":0.253,"color":"#333"},{"offset":0.26,"color":"#333"},
{"offset":0.26,"color":"#fff"},{"offset":0.273,"color":"#fff"},{"offset":0.273,"color":"#333"},{"offset":0.28,"color":"#333"},
{"offset":0.28,"color":"#fff"},{"offset":0.293,"color":"#fff"},{"offset":0.293,"color":"#333"},{"offset":0.3,"color":"#333"},
{"offset":0.3,"color":"#fff"},{"offset":0.313,"color":"#fff"},{"offset":0.313,"color":"#333"},{"offset":0.32,"color":"#333"},
{"offset":0.32,"color":"#fff"},{"offset":0.333,"color":"#fff"},{"offset":0.333,"color":"#333"},{"offset":0.34,"color":"#333"},
{"offset":0.34,"color":"#fff"},{"offset":0.353,"color":"#fff"},{"offset":0.353,"color":"#333"},{"offset":0.36,"color":"#333"},
{"offset":0.36,"color":"#fff"},{"offset":0.373,"color":"#fff"},{"offset":0.373,"color":"#333"},{"offset":0.38,"color":"#333"},
{"offset":0.38,"color":"#fff"},{"offset":0.393,"color":"#fff"},{"offset":0.393,"color":"#333"},{"offset":0.4,"color":"#333"},
{"offset":0.4,"color":"#fff"},{"offset":0.413,"color":"#fff"},{"offset":0.413,"color":"#333"},{"offset":0.42,"color":"#333"},
{"offset":0.42,"color":"#fff"},{"offset":0.433,"color":"#fff"},{"offset":0.433,"color":"#333"},{"offset":0.44,"color":"#333"},
{"offset":0.44,"color":"#fff"},{"offset":0.453,"color":"#fff"},{"offset":0.453,"color":"#333"},{"offset":0.46,"color":"#333"},
{"offset":0.46,"color":"#fff"},{"offset":0.473,"color":"#fff"},{"offset":0.473,"color":"#333"},{"offset":0.48,"color":"#333"},
{"offset":0.48,"color":"#fff"},{"offset":0.493,"color":"#fff"},{"offset":0.493,"color":"#333"},{"offset":0.5,"color":"#333"},
{"offset":0.5,"color":"#fff"},{"offset":0.513,"color":"#fff"},{"offset":0.513,"color":"#333"},{"offset":0.52,"color":"#333"},
{"offset":0.52,"color":"#fff"},{"offset":0.533,"color":"#fff"},{"offset":0.533,"color":"#333"},{"offset":0.54,"color":"#333"},
{"offset":0.54,"color":"#fff"},{"offset":0.553,"color":"#fff"},{"offset":0.553,"color":"#333"},{"offset":0.56,"color":"#333"},
{"offset":0.56,"color":"#fff"},{"offset":0.573,"color":"#fff"},{"offset":0.573,"color":"#333"},{"offset":0.58,"color":"#333"},
{"offset":0.58,"color":"#fff"},{"offset":0.593,"color":"#fff"},{"offset":0.593,"color":"#333"},{"offset":0.6,"color":"#333"},
{"offset":0.6,"color":"#fff"},{"offset":0.613,"color":"#fff"},{"offset":0.613,"color":"#333"},{"offset":0.62,"color":"#333"},
{"offset":0.62,"color":"#fff"},{"offset":0.633,"color":"#fff"},{"offset":0.633,"color":"#333"},{"offset":0.64,"color":"#333"},
{"offset":0.64,"color":"#fff"},{"offset":0.653,"color":"#fff"},{"offset":0.653,"color":"#333"},{"offset":0.66,"color":"#333"},
{"offset":0.66,"color":"#fff"},{"offset":0.673,"color":"#fff"},{"offset":0.673,"color":"#333"},{"offset":0.68,"color":"#333"},
{"offset":0.68,"color":"#fff"},{"offset":0.693,"color":"#fff"},{"offset":0.693,"color":"#333"},{"offset":0.7,"color":"#333"},
{"offset":0.7,"color":"#fff"},{"offset":0.713,"color":"#fff"},{"offset":0.713,"color":"#333"},{"offset":0.72,"color":"#333"},
{"offset":0.72,"color":"#fff"},{"offset":0.733,"color":"#fff"},{"offset":0.733,"color":"#333"},{"offset":0.74,"color":"#333"},
{"offset":0.74,"color":"#fff"},{"offset":0.753,"color":"#fff"},{"offset":0.753,"color":"#333"},{"offset":0.76,"color":"#333"},
{"offset":0.76,"color":"#fff"},{"offset":0.773,"color":"#fff"},{"offset":0.773,"color":"#333"},{"offset":0.78,"color":"#333"},
{"offset":0.78,"color":"#fff"},{"offset":0.793,"color":"#fff"},{"offset":0.793,"color":"#333"},{"offset":0.8,"color":"#333"},
{"offset":0.8,"color":"#fff"},{"offset":0.813,"color":"#fff"},{"offset":0.813,"color":"#333"},{"offset":0.82,"color":"#333"},
{"offset":0.82,"color":"#fff"},{"offset":0.833,"color":"#fff"},{"offset":0.833,"color":"#333"},{"offset":0.84,"color":"#333"},
{"offset":0.84,"color":"#fff"},{"offset":0.853,"color":"#fff"},{"offset":0.853,"color":"#333"},{"offset":0.86,"color":"#333"},
{"offset":0.86,"color":"#fff"},{"offset":0.873,"color":"#fff"},{"offset":0.873,"color":"#333"},{"offset":0.88,"color":"#333"},
{"offset":0.88,"color":"#fff"},{"offset":0.893,"color":"#fff"},{"offset":0.893,"color":"#333"},{"offset":0.9,"color":"#333"},
{"offset":0.9,"color":"#fff"},{"offset":0.913,"color":"#fff"},{"offset":0.913,"color":"#333"},{"offset":0.92,"color":"#333"},
{"offset":0.92,"color":"#fff"},{"offset":0.933,"color":"#fff"},{"offset":0.933,"color":"#333"},{"offset":0.94,"color":"#333"},
{"offset":0.94,"color":"#fff"},{"offset":0.953,"color":"#fff"},{"offset":0.953,"color":"#333"},{"offset":0.96,"color":"#333"},
{"offset":0.96,"color":"#fff"},{"offset":0.973,"color":"#fff"},{"offset":0.973,"color":"#333"},{"offset":0.98,"color":"#333"},
{"offset":0.98,"color":"#fff"},{"offset":0.993,"color":"#fff"},{"offset":0.993,"color":"#333"},{"offset":1,"color":"#333"}]}},
    "encoding":{"y":{"field":"m","type":"quantitative","title":"Frequency (Hz)"}}},
   {"mark":{"type":"rule","color":"black","strokeWidth":1},"encoding":{"y":{"field":"m","type":"quantitative","title":"Frequency (Hz)"},"y2":{"field":"hi"}}},
   {"mark":{"type":"tick","orient":"horizontal","size":8,"thickness":1,"color":"black"},"encoding":{"y":{"field":"hi","type":"quantitative","title":"Frequency (Hz)"}}},
   {"mark":{"type":"text","dy":-12,"fontSize":15,"baseline":"middle"},"encoding":{"y":{"field":"hi","type":"quantitative","title":"Frequency (Hz)"},"text":{"field":"sig"}}}
  ]}
 ],"spacing":0,"bounds":"flush"}
],
"spacing":0
}
